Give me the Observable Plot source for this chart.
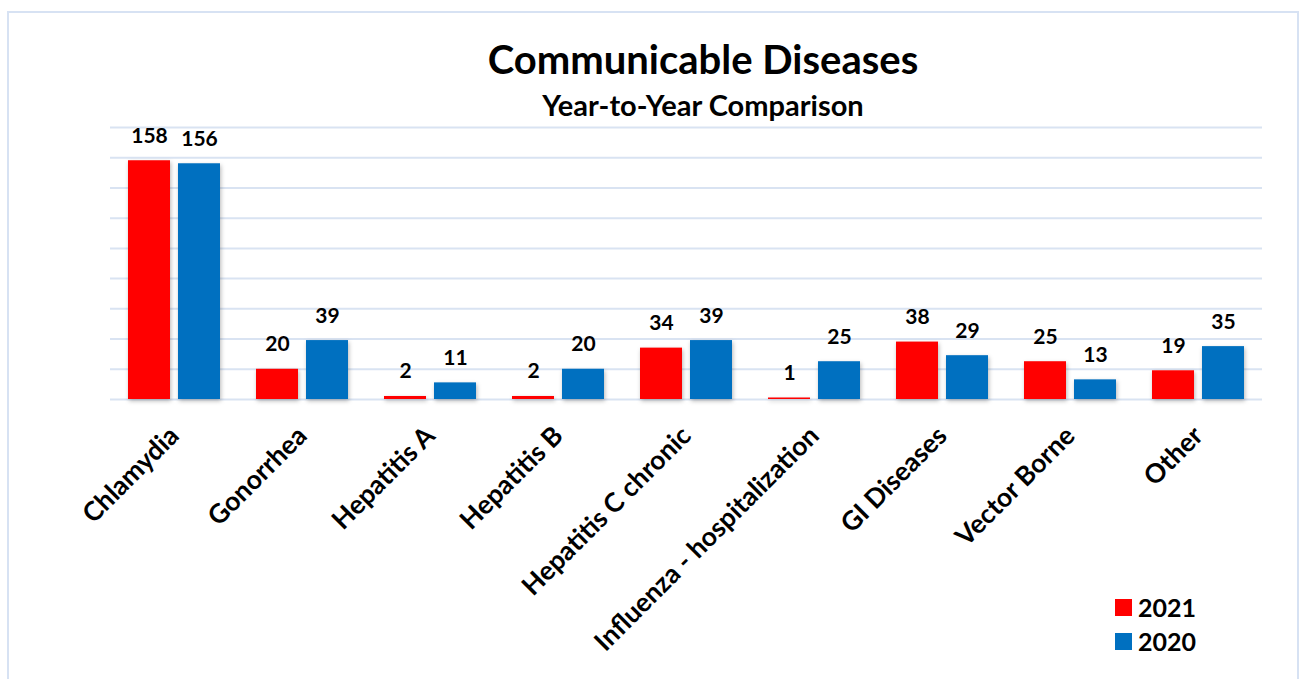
<!DOCTYPE html>
<html>
<head>
<meta charset="utf-8">
<script src="https://cdn.jsdelivr.net/npm/d3@7"></script>
<script src="https://cdn.jsdelivr.net/npm/@observablehq/plot@0.6"></script>
<style>
  html, body { margin: 0; padding: 0; background: #fff; }
  body { width: 1304px; height: 679px; position: relative; overflow: hidden; font-family: Lato, "Open Sans", sans-serif; }
  #frame { position: absolute; left: 7px; top: 11px; width: 1292px; height: 700px; border: 2px solid #d7e2f3; box-sizing: border-box; pointer-events: none; }
  #title { position: absolute; left: 0; width: 1406px; top: 35px; text-align: center; font-weight: bold; font-size: 40px; color: #000; }
  #subtitle { position: absolute; left: 0; width: 1406px; top: 87px; text-align: center; font-weight: bold; font-size: 29px; color: #000; }
  #legend { position: absolute; left: 1115px; top: 590px; font-weight: bold; font-size: 25px; color: #000; }
  #legend .item { display: flex; align-items: center; height: 34px; }
  #legend .sw { width: 17px; height: 17px; margin-right: 6px; }
  #chart { position: absolute; left: 0; top: 0; }
  #chart g[aria-label="bar"] rect { filter: drop-shadow(1px 2px 2px rgba(0,0,0,0.28)); }
</style>
</head>
<body>
<div id="chart"></div>
<div id="frame"></div>
<div id="title">Communicable Diseases</div>
<div id="subtitle">Year-to-Year Comparison</div>
<div id="legend"></div>
<script>
const categories = ["Chlamydia", "Gonorrhea", "Hepatitis A", "Hepatitis B", "Hepatitis C chronic", "Influenza - hospitalization", "GI Diseases", "Vector Borne", "Other"];
const years = ["2021", "2020"];
const values2021 = [158, 20, 2, 2, 34, 1, 38, 25, 19];
const values2020 = [156, 39, 11, 20, 39, 25, 29, 13, 35];
const yTicks = [0, 20, 40, 60, 80, 100, 120, 140, 160, 180];
const colors = ["#ff0000", "#0070c0"];

const table = categories.flatMap((c, i) => [
  {category: c, year: years[0], value: values2021[i]},
  {category: c, year: years[1], value: values2020[i]}
]);

const chart = Plot.plot({
  width: 1304,
  height: 679,
  marginLeft: 110,
  marginRight: 42,
  marginTop: 127,
  marginBottom: 280,
  style: {fontFamily: "Lato, 'Open Sans', sans-serif", background: "transparent"},
  fx: {domain: categories, padding: 0, axis: null, label: null},
  x: {domain: years, paddingInner: 0.16, paddingOuter: 0.36, axis: null},
  y: {domain: [0, 180], axis: null},
  color: {domain: years, range: colors},
  marks: [
    Plot.ruleY(yTicks, {y: d => d, stroke: "#d9e3f2", strokeWidth: 2}),
    Plot.barY(table, {fx: "category", x: "year", y: "value", fill: "year"}),
    Plot.text(table, {fx: "category", x: "year", y: "value", text: d => String(d.value),
      lineAnchor: "bottom", dy: -18, fontSize: 21, fontWeight: "bold", fill: "#000"}),
    Plot.axisFx({anchor: "bottom", tickRotate: -45, tickSize: 0, tickPadding: 32,
      fontSize: 26.5, fontWeight: "bold", fill: "#000", label: null})
  ]
});
document.getElementById("chart").appendChild(chart);

const legend = document.getElementById("legend");
years.forEach((y, i) => {
  const item = document.createElement("div");
  item.className = "item";
  const sw = document.createElement("div");
  sw.className = "sw";
  sw.style.background = colors[i];
  const t = document.createElement("span");
  t.textContent = y;
  item.appendChild(sw);
  item.appendChild(t);
  legend.appendChild(item);
});
</script>
</body>
</html>
